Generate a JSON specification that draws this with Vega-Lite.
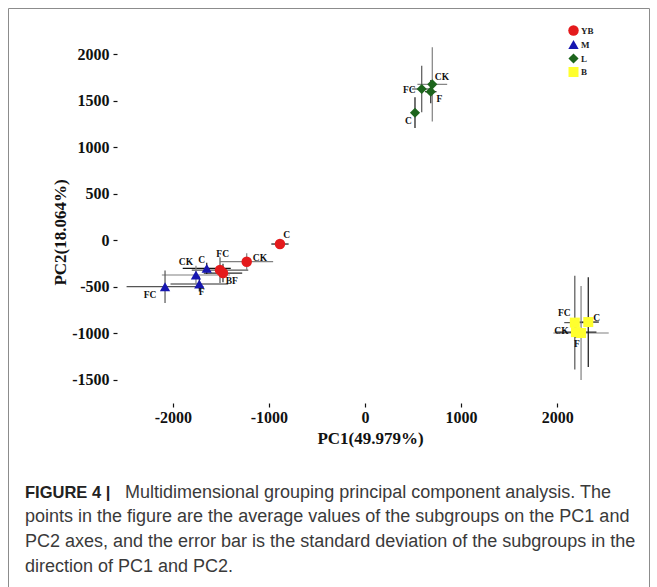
{
  "$schema": "https://vega.github.io/schema/vega-lite/v6.json",
  "width": 641,
  "height": 579,
  "autosize": {"type": "none"},
  "padding": {"left": 8, "top": 8, "right": 8, "bottom": 0},
  "background": "white",
  "config": {
    "view": {"stroke": "#8c8c8c", "strokeWidth": 1, "fill": "white"},
    "axis": {
      "grid": false,
      "domain": false,
      "tickColor": "#111111",
      "tickSize": 4,
      "tickWidth": 1.2,
      "labelFont": "Liberation Serif",
      "labelFontWeight": "bold",
      "labelFontSize": 16,
      "labelColor": "#111111",
      "titleFont": "Liberation Serif",
      "titleFontWeight": "bold",
      "titleFontSize": 17,
      "titleColor": "#111111"
    }
  },
  "title": {
    "text": "FIGURE 4 |",
    "subtitle": [
      "\u200b\u00a0\u00a0\u00a0\u00a0\u00a0\u00a0\u00a0\u00a0\u00a0\u00a0\u00a0\u00a0\u00a0\u00a0\u00a0\u00a0\u00a0\u00a0\u00a0\u00a0Multidimensional grouping principal component analysis. The",
      "points in the figure are the average values of the subgroups on the PC1 and",
      "PC2 axes, and the error bar is the standard deviation of the subgroups in the",
      "direction of PC1 and PC2."
    ],
    "orient": "bottom",
    "anchor": "start",
    "frame": "group",
    "offset": -102,
    "dx": 17,
    "font": "Liberation Sans",
    "fontSize": 16.5,
    "fontWeight": "bold",
    "color": "#222222",
    "subtitleFont": "Liberation Sans",
    "subtitleFontSize": 18,
    "subtitleFontWeight": "normal",
    "subtitleColor": "#3a3a3a",
    "subtitleLineHeight": 24.6,
    "subtitlePadding": -17.7
  },
  "datasets": {
    "pts": [
      {"group": "YB", "sub": "C", "label": "C", "x": -885, "y": -43, "xmin": -975, "xmax": -795, "ymin": -83, "ymax": -3, "lx": -815, "ly": 54},
      {"group": "YB", "sub": "CK", "label": "CK", "x": -1231, "y": -233, "xmin": -1506, "xmax": -956, "ymin": -323, "ymax": -143, "lx": -1093, "ly": -197},
      {"group": "YB", "sub": "FC", "label": "FC", "x": -1509, "y": -323, "xmin": -1803, "xmax": -1215, "ymin": -461, "ymax": -185, "lx": -1481, "ly": -154},
      {"group": "YB", "sub": "F", "label": "BF", "x": -1478, "y": -355, "xmin": -1678, "xmax": -1278, "ymin": -455, "ymax": -255, "lx": -1387, "ly": -441},
      {"group": "M", "sub": "FC", "label": "FC", "x": -2081, "y": -502, "xmin": -2481, "xmax": -1681, "ymin": -677, "ymax": -327, "lx": -2237, "ly": -591},
      {"group": "M", "sub": "CK", "label": "CK", "x": -1759, "y": -376, "xmin": -2114, "xmax": -1404, "ymin": -476, "ymax": -276, "lx": -1863, "ly": -240},
      {"group": "M", "sub": "C", "label": "C", "x": -1647, "y": -305, "xmin": -1897, "xmax": -1397, "ymin": -365, "ymax": -245, "lx": -1699, "ly": -215},
      {"group": "M", "sub": "F", "label": "F", "x": -1724, "y": -473, "xmin": -2024, "xmax": -1424, "ymin": -553, "ymax": -393, "lx": -1699, "ly": -562},
      {"group": "L", "sub": "CK", "label": "CK", "x": 700, "y": 1674, "xmin": 545, "xmax": 855, "ymin": 1274, "ymax": 2074, "lx": 800, "ly": 1749},
      {"group": "L", "sub": "FC", "label": "FC", "x": 590, "y": 1624, "xmin": 490, "xmax": 690, "ymin": 1374, "ymax": 1874, "lx": 461, "ly": 1613},
      {"group": "L", "sub": "F", "label": "F", "x": 684, "y": 1595, "xmin": 624, "xmax": 744, "ymin": 1470, "ymax": 1720, "lx": 773, "ly": 1519},
      {"group": "L", "sub": "C", "label": "C", "x": 520, "y": 1369, "xmin": 480, "xmax": 560, "ymin": 1204, "ymax": 1534, "lx": 451, "ly": 1283},
      {"group": "B", "sub": "FC", "label": "FC", "x": 2183, "y": -888, "xmin": 2073, "xmax": 2293, "ymin": -1393, "ymax": -383, "lx": 2074, "ly": -780},
      {"group": "B", "sub": "C", "label": "C", "x": 2323, "y": -882, "xmin": 2213, "xmax": 2433, "ymin": -1365, "ymax": -399, "lx": 2410, "ly": -839},
      {"group": "B", "sub": "CK", "label": "CK", "x": 2248, "y": -1000, "xmin": 1960, "xmax": 2536, "ymin": -1505, "ymax": -495, "lx": 2044, "ly": -982},
      {"group": "B", "sub": "F", "label": "F", "x": 2195, "y": -990, "xmin": 1982, "xmax": 2408, "ymin": -1050, "ymax": -930, "lx": 2206, "ly": -1114}
    ]
  },
  "layer": [
    {
      "data": {"name": "pts"},
      "mark": {"type": "rule", "strokeWidth": 1.2},
      "encoding": {
        "x": {
          "field": "xmin",
          "type": "quantitative",
          "scale": {"domain": [-3715, 2955], "nice": false, "zero": false},
          "axis": {
            "orient": "bottom",
            "offset": -184,
            "values": [-2000, -1000, 0, 1000, 2000],
            "labelExpr": "toString(datum.value)",
            "labelPadding": 2,
            "title": "PC1(49.979%)",
            "titleX": 362,
            "titleY": 35,
            "titleBaseline": "middle"
          }
        },
        "x2": {"field": "xmax"},
        "y": {
          "field": "y",
          "type": "quantitative",
          "scale": {"domain": [-3731, 2495], "nice": false, "zero": false},
          "axis": {
            "orient": "left",
            "offset": -109,
            "values": [-1500, -1000, -500, 0, 500, 1000, 1500, 2000],
            "labelExpr": "toString(datum.value)",
            "labelPadding": 4,
            "title": "PC2(18.064%)",
            "titleX": -57,
            "titleY": 224,
            "titleBaseline": "middle"
          }
        },
        "stroke": {
          "field": "sub",
          "type": "nominal",
          "scale": {"domain": ["C", "CK", "FC", "F"], "range": ["#151515", "#808080", "#555555", "#2a2a2a"]},
          "legend": null
        }
      }
    },
    {
      "data": {"name": "pts"},
      "mark": {"type": "rule", "strokeWidth": 1.2},
      "encoding": {
        "x": {"field": "x", "type": "quantitative"},
        "y": {"field": "ymin", "type": "quantitative"},
        "y2": {"field": "ymax"},
        "stroke": {"field": "sub", "type": "nominal", "legend": null}
      }
    },
    {
      "mark": {"type": "rule", "color": "#111111", "strokeWidth": 1.6},
      "encoding": {
        "x": {"datum": -2581},
        "x2": {"datum": 2581},
        "y": {"datum": -1753}
      }
    },
    {
      "mark": {"type": "rule", "color": "#111111", "strokeWidth": 1.6},
      "encoding": {
        "x": {"datum": -2581},
        "y": {"datum": -1753},
        "y2": {"datum": 2237}
      }
    },
    {
      "data": {"name": "pts"},
      "mark": {"type": "point", "filled": true, "opacity": 1, "strokeWidth": 0},
      "encoding": {
        "x": {"field": "x", "type": "quantitative"},
        "y": {"field": "y", "type": "quantitative"},
        "color": {
          "field": "group",
          "type": "nominal",
          "scale": {"domain": ["YB", "M", "L", "B"], "range": ["#E41A1C", "#1717B0", "#1D651D", "#FFFF2E"]},
          "legend": {
            "orient": "none",
            "legendX": 560,
            "legendY": 17,
            "title": null,
            "labelFont": "Liberation Serif",
            "labelFontWeight": "bold",
            "labelFontSize": 9,
            "labelColor": "#222222",
            "labelOffset": 2,
            "rowPadding": 3,
            "symbolStrokeWidth": 0
          }
        },
        "shape": {
          "field": "group",
          "type": "nominal",
          "scale": {"domain": ["YB", "M", "L", "B"], "range": ["circle", "triangle-up", "diamond", "square"]}
        },
        "size": {
          "field": "group",
          "type": "nominal",
          "scale": {"domain": ["YB", "M", "L", "B"], "range": [110, 100, 70, 150]}
        }
      }
    },
    {
      "data": {"name": "pts"},
      "mark": {"type": "text", "font": "Liberation Serif", "fontWeight": "bold", "fontSize": 9.5, "color": "#111111"},
      "encoding": {
        "x": {"field": "lx", "type": "quantitative"},
        "y": {"field": "ly", "type": "quantitative"},
        "text": {"field": "label", "type": "nominal"}
      }
    }
  ]
}
